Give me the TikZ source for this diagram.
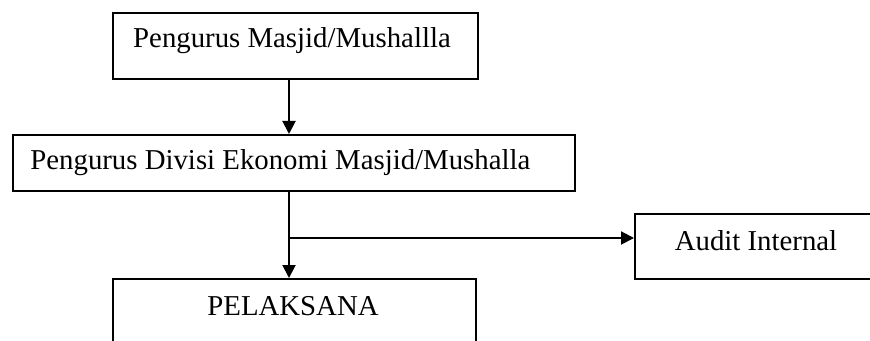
\documentclass[tikz,border=0pt]{standalone}
\usepackage{fontspec}
\setmainfont{Liberation Serif}
\usetikzlibrary{arrows.meta}
\begin{document}
\begin{tikzpicture}[x=0.5pt,y=-0.5pt,
  box/.style={draw=black,line width=1pt,inner sep=0pt,fill=none},
  lbl/.style={inner sep=0pt,font=\fontsize{14.4}{17}\selectfont},
  conn/.style={draw=black,line width=1pt},
  arr/.style={conn,-{Triangle[length=6.5pt,width=6.5pt]}}]
\useasboundingbox (0,0) rectangle (870,341);
\clip (0,0) rectangle (870,341);
% boxes
\node[box,minimum width=182.5pt,minimum height=33pt] (b1) at (295.5,46) {};
\node[box,minimum width=281pt,minimum height=28pt] (b2) at (294,163) {};
\node[box,minimum width=181.5pt,minimum height=40.5pt] (b3) at (294.5,319.5) {};
\node[box,minimum width=127.5pt,minimum height=32.5pt] (b4) at (762.5,246.5) {};
% texts
\node[lbl,anchor=base] (t1) at (292,48) {Pengurus Masjid/Mushallla};
\node[lbl,anchor=base west] (t2) at (30,170) {Pengurus Divisi Ekonomi Masjid/Mushalla};
\node[lbl,anchor=base] (t3) at (293,315) {PELAKSANA};
\node[lbl,anchor=base] (t4) at (756,250) {Audit Internal};
% connectors
\coordinate (cx) at (289,0);
\coordinate (j) at (289,238);
\draw[arr] (cx |- b1.south) -- (cx |- b2.north);
\draw[arr] (cx |- b2.south) -- (cx |- b3.north);
\draw[arr] (j) -- (j -| b4.west);
\end{tikzpicture}
\end{document}
